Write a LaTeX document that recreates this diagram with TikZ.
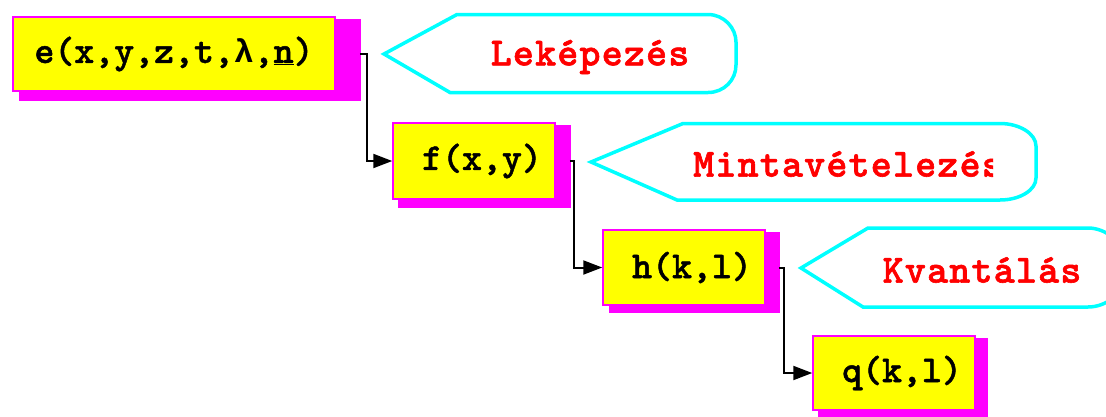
\documentclass[tikz,border=0pt]{standalone}
\usepackage{fontspec}
\usetikzlibrary{arrows.meta,calc,backgrounds}
\newfontfamily\boxfont{lmmonolt10-bold}[Extension=.otf, FakeBold=1.2]
\newfontfamily\tagfont{lmmonolt10-bold}[Extension=.otf, FakeBold=1.5, LetterSpace=3]
\newfontfamily\greekfont{Liberation Mono}
\definecolor{boxyellow}{RGB}{255,255,0}
\definecolor{boxmagenta}{RGB}{255,0,255}
\definecolor{tagcyan}{RGB}{0,255,255}
\definecolor{tagred}{RGB}{255,0,0}
\tikzset{
  stagebox/.style={draw=boxmagenta, line width=1.5pt, fill=boxyellow, inner sep=0pt,
    font=\boxfont\fontsize{38}{38}\selectfont, text=black},
  boxshadow/.style={fill=boxmagenta},
  link/.style={draw=black, line width=2pt, -{Triangle[length=19pt,width=14pt]}},
  callout/.style={draw=tagcyan, line width=3.5pt, line join=miter},
  tagtext/.style={inner sep=0pt, text=tagred, font=\tagfont\fontsize{40}{40}\selectfont}
}
\begin{document}
\begin{tikzpicture}[x=1pt, y=-1pt]
  \clip (0,0) rectangle (1106,416);

  % processing stages
  \node[stagebox, minimum width=322pt, minimum height=74pt] (e) at (174,54)
    {e(x,y,z,t,{\greekfont\bfseries\fontsize{33}{33}\selectfont λ},\underline{n})};
  \node[stagebox, minimum width=162pt, minimum height=76pt] (f) at (474,161)
    {\hspace*{16pt}f(x,y)};
  \node[stagebox, minimum width=162pt, minimum height=75pt] (h) at (684,267.5)
    {\hspace*{16pt}h(k,l)};
  \node[stagebox, minimum width=162pt, minimum height=74pt] (q) at (894,373)
    {\hspace*{16pt}q(k,l)};

  % page background and offset shadows behind the stage boxes
  \begin{scope}[on background layer]
    \fill[white] (0,0) rectangle (1106,416);
    \fill[boxshadow] ($(e.north west)+(7,3)$) rectangle ($(e.south east)+(25,9)$);
    \fill[boxshadow] ($(f.north west)+(6,3)$) rectangle ($(f.south east)+(15,8)$);
    \fill[boxshadow] ($(h.north west)+(7,3)$) rectangle ($(h.south east)+(14,7)$);
    \fill[boxshadow] ($(q.north west)+(6,3)$) rectangle ($(q.south east)+(12,6)$);
  \end{scope}

  % connectors leave from the shadow edge
  \coordinate (e-out) at ($(e.east)+(24,0)$);
  \coordinate (f-out) at ($(f.east)+(14,0)$);
  \coordinate (h-out) at ($(h.east)+(13,0)$);
  \draw[link] (e-out) -- ++(7,0) |- (f.west);
  \draw[link] (f-out) -- ++(4,0) |- (h.west);
  \draw[link] (h-out) -- ++(5,0) |- (q.west);

  % step labels in pointed callouts
  \draw[callout] (384,54) -- (457,14.5) -- (708,14.5)
    .. controls (724,14.5) and (736,28) .. (736,42) -- (736,65)
    .. controls (736,80) and (724,92.5) .. (708,92.5) -- (450,92.5) -- cycle;
  \node[tagtext] (t1) at (590,57) {Leképezés};

  \draw[callout] (591,162) -- (683,123.5) -- (1000,123.5)
    .. controls (1020,123.5) and (1036,134) .. (1036,146) -- (1036,178)
    .. controls (1036,190) and (1020,200) .. (1000,200) -- (677,200) -- cycle;
  \begin{scope}
    \clip (600,125) rectangle (993,198);
    \node[tagtext, anchor=west] (t2) at (693,164) {Mintavételezés};
  \end{scope}

  \draw[callout] (801,268) -- (868,228) -- (1088,228)
    .. controls (1106,228) and (1122,242) .. (1122,256) -- (1122,280)
    .. controls (1122,294) and (1106,307) .. (1088,307) -- (863,307) -- cycle;
  \node[tagtext] (t3) at (982,270) {Kvantálás};
\end{tikzpicture}
\end{document}
